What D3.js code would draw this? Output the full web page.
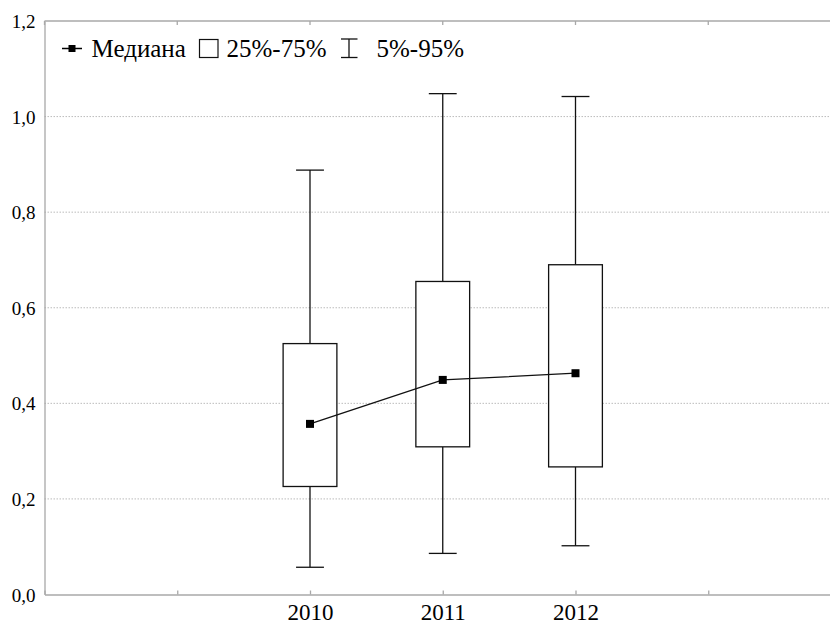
<!DOCTYPE html>
<html><head><meta charset="utf-8">
<script src="https://cdn.jsdelivr.net/npm/d3@7"></script>
<style>body{margin:0;background:#fff;} svg{display:block;}</style>
</head><body>
<svg id="c" width="830" height="626"></svg>
<script>
const years = [2010, 2011, 2012];
const p5 = [0.057, 0.086, 0.102];
const q1 = [0.226, 0.309, 0.267];
const median = [0.357, 0.449, 0.463];
const q3 = [0.525, 0.655, 0.690];
const p95 = [0.888, 1.048, 1.042];
const yTicks = [0, 0.2, 0.4, 0.6, 0.8, 1.0, 1.2];
const xTicks = [2008, 2009, 2010, 2011, 2012, 2013, 2014];
const legendLabels = ["Медиана", "25%-75%", "5%-95%"];

const FONT = "'Liberation Serif', 'Times New Roman', Tinos, 'DejaVu Serif', serif";
const svg = d3.select("#c").attr("font-family", FONT);
const L = 44.5, T = 21, B = 594.5, R = 841;
const x = d3.scaleLinear().domain([2008, 2014]).range([L, R]);
const y = d3.scaleLinear().domain([0, 1.2]).range([B, T]);
const fmt = v => d3.format(".1f")(v).replace(".", ",");

// gridlines
svg.append("g").selectAll("line").data(yTicks.filter(v => v > 0 && v < 1.2)).join("line")
  .attr("x1", L).attr("x2", 830).attr("y1", d => y(d)).attr("y2", d => y(d))
  .attr("stroke", "#bbb").attr("stroke-width", 1).attr("stroke-dasharray", "1.5,1.5");

// top border
svg.append("line").attr("x1", L).attr("x2", 830).attr("y1", y(1.2)).attr("y2", y(1.2))
  .attr("stroke", "#a8a8a8").attr("stroke-width", 1.3);
// bottom axis
const xAxis = d3.axisBottom(x).tickValues(xTicks).tickSizeInner(-4).tickSizeOuter(0)
  .tickFormat(d => years.includes(d) ? String(d) : "");
const gx = svg.append("g").attr("transform", `translate(0,${B})`).call(xAxis)
  .attr("font-family", FONT);
gx.select(".domain").attr("stroke", "#a8a8a8").attr("stroke-width", 1.3);
gx.selectAll(".tick line").attr("stroke", "#a8a8a8").attr("stroke-width", 1.3);
gx.selectAll(".tick text").attr("font-size", 23).attr("dy", 0).attr("y", 25).attr("fill", "#000");
// top ticks
svg.append("g").selectAll("line").data(xTicks).join("line")
  .attr("x1", d => x(d)).attr("x2", d => x(d)).attr("y1", y(1.2)).attr("y2", y(1.2) + 4)
  .attr("stroke", "#a8a8a8").attr("stroke-width", 1.3);
// left axis
const yAxis = d3.axisLeft(y).tickValues(yTicks).tickSize(0).tickPadding(9).tickFormat(fmt);
const gy = svg.append("g").attr("transform", `translate(${L},0)`).call(yAxis)
  .attr("font-family", FONT);
gy.select(".domain").attr("stroke", "#a8a8a8").attr("stroke-width", 1.3);
gy.selectAll(".tick text").attr("font-size", 19).attr("dy", "0.35em").attr("fill", "#000");

// boxes
const bw = 0.405, cw = 0.21;
const data = years.map((yr, i) => ({yr, p5: p5[i], q1: q1[i], med: median[i], q3: q3[i], p95: p95[i]}));
const g = svg.append("g").attr("stroke", "#111").attr("stroke-width", 1.3).attr("fill", "none");
data.forEach(d => {
  const cx = x(d.yr);
  g.append("line").attr("x1", cx).attr("x2", cx).attr("y1", y(d.q3)).attr("y2", y(d.p95));
  g.append("line").attr("x1", cx).attr("x2", cx).attr("y1", y(d.q1)).attr("y2", y(d.p5));
  g.append("line").attr("x1", x(d.yr - cw / 2)).attr("x2", x(d.yr + cw / 2)).attr("y1", y(d.p95)).attr("y2", y(d.p95));
  g.append("line").attr("x1", x(d.yr - cw / 2)).attr("x2", x(d.yr + cw / 2)).attr("y1", y(d.p5)).attr("y2", y(d.p5));
  g.append("rect").attr("x", x(d.yr - bw / 2)).attr("width", x(d.yr + bw / 2) - x(d.yr - bw / 2))
    .attr("y", y(d.q3)).attr("height", y(d.q1) - y(d.q3)).attr("fill", "#fff");
});
// median line
svg.append("path").datum(data)
  .attr("d", d3.line().x(d => x(d.yr)).y(d => y(d.med)))
  .attr("fill", "none").attr("stroke", "#111").attr("stroke-width", 1.3);
svg.append("g").selectAll("rect").data(data).join("rect")
  .attr("x", d => x(d.yr) - 4).attr("y", d => y(d.med) - 4).attr("width", 8).attr("height", 8)
  .attr("fill", "#000");

// legend
const lg = svg.append("g").attr("font-family", FONT).attr("font-size", 25).attr("fill", "#000");
const ly = 48.5;
lg.append("line").attr("x1", 62).attr("x2", 82).attr("y1", ly).attr("y2", ly).attr("stroke", "#000").attr("stroke-width", 1.5);
lg.append("rect").attr("x", 68.5).attr("y", ly - 3.5).attr("width", 7).attr("height", 7).attr("fill", "#000");
lg.append("text").attr("x", 91.5).attr("y", 57).text(legendLabels[0]);
lg.append("rect").attr("x", 199.5).attr("y", 39.5).attr("width", 18.5).attr("height", 18)
  .attr("fill", "#fff").attr("stroke", "#111").attr("stroke-width", 1.2);
lg.append("text").attr("x", 226.5).attr("y", 57).text(legendLabels[1]);
const wg = lg.append("g").attr("stroke", "#111").attr("stroke-width", 1.3);
wg.append("line").attr("x1", 349).attr("x2", 349).attr("y1", 39).attr("y2", 57.5);
wg.append("line").attr("x1", 341).attr("x2", 357.5).attr("y1", 39).attr("y2", 39);
wg.append("line").attr("x1", 341).attr("x2", 357.5).attr("y1", 57.5).attr("y2", 57.5);
lg.append("text").attr("x", 376.5).attr("y", 57).text(legendLabels[2]);
</script>
</body></html>
